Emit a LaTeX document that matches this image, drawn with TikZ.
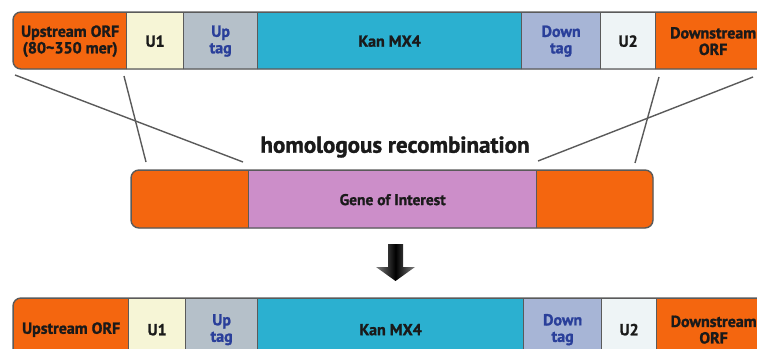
\documentclass[tikz,border=0pt]{standalone}
\usepackage{fontspec}
\setmainfont{PT Sans}[BoldFeatures={FakeBold=1.3}]
\definecolor{orf}{HTML}{F4660F}
\definecolor{uone}{HTML}{F6F5D6}
\definecolor{uptag}{HTML}{B5C0C9}
\definecolor{kan}{HTML}{2BB0D0}
\definecolor{dntag}{HTML}{A7B5D6}
\definecolor{utwo}{HTML}{EEF4F6}
\definecolor{goi}{HTML}{CC8EC9}
\definecolor{edge}{HTML}{5A5A5A}
\definecolor{tagtext}{HTML}{2A3F9A}
\definecolor{labtext}{HTML}{1A1A1A}
\begin{document}
\begin{tikzpicture}[x=1pt,y=-1pt,
  seg/.style={draw=edge, line width=1.3pt, inner sep=0pt, anchor=north west,
    align=center, text=labtext, font=\bfseries\fontsize{16}{16.5}\selectfont},
  tagseg/.style={seg, text=tagtext},
  outline/.style={draw=edge, line width=1.4pt, rounded corners=8pt},
  conn/.style={draw=edge, line width=1.4pt}]
\useasboundingbox (0,0) rectangle (757,348);
\clip (0,0) rectangle (757,348);

% ---------- top bar ----------
\begin{scope}
\clip[rounded corners=8pt] (13,12) rectangle (770,69);
\node[seg, fill=orf, minimum width=113pt, minimum height=57pt] (t1) at (13,12) {Upstream ORF\\(80\textasciitilde350 mer)};
\node[seg, fill=uone, minimum width=57pt, minimum height=57pt] (t2) at (126,12) {U1};
\node[tagseg, fill=uptag, minimum width=74pt, minimum height=57pt] (t3) at (183,12) {Up\\tag};
\node[seg, fill=kan, minimum width=264pt, minimum height=57pt] (t4) at (257,12) {Kan MX4};
\node[tagseg, fill=dntag, minimum width=79pt, minimum height=57pt] (t5) at (521,12) {Down\\tag};
\node[seg, fill=utwo, minimum width=55pt, minimum height=57pt] (t6) at (600,12) {U2};
\node[seg, fill=orf, minimum width=115pt, minimum height=57pt] (t7) at (655,12) {Downstream\\ORF};
\end{scope}
\draw[outline] (13,12) rectangle (770,69);

% ---------- middle bar ----------
\begin{scope}
\clip[rounded corners=8pt] (131,170) rectangle (653,228);
\node[seg, fill=orf, minimum width=117pt, minimum height=58pt] (m1) at (131,170) {};
\node[seg, fill=goi, minimum width=288pt, minimum height=58pt, font=\bfseries\fontsize{15.5}{16}\selectfont] (m2) at (248,170) {Gene of Interest};
\node[seg, fill=orf, minimum width=117pt, minimum height=58pt] (m3) at (536,170) {};
\end{scope}
\draw[outline] (131,170) rectangle (653,228);

% ---------- bottom bar ----------
\begin{scope}
\clip[rounded corners=8pt] (13,298) rectangle (770,360);
\node[seg, fill=orf, minimum width=115pt, minimum height=62pt] (b1) at (13,298) {Upstream ORF};
\node[seg, fill=uone, minimum width=57pt, minimum height=62pt] (b2) at (128,298) {U1};
\node[tagseg, fill=uptag, minimum width=72pt, minimum height=62pt] (b3) at (185,298) {Up\\tag};
\node[seg, fill=kan, minimum width=266pt, minimum height=62pt] (b4) at (257,298) {Kan MX4};
\node[tagseg, fill=dntag, minimum width=78pt, minimum height=62pt] (b5) at (523,298) {Down\\tag};
\node[seg, fill=utwo, minimum width=55pt, minimum height=62pt] (b6) at (601,298) {U2};
\node[seg, fill=orf, minimum width=114pt, minimum height=62pt] (b7) at (656,298) {Downstream\\ORF};
\end{scope}
\draw[outline] (13,298) rectangle (770,360);

% ---------- recombination lines ----------
\coordinate (la1) at (15,75);
\coordinate (la2) at (243,162);
\coordinate (lb1) at (124,76);
\coordinate (lb2) at (146,162);
\coordinate (ra1) at (753,77);
\coordinate (ra2) at (538,161);
\coordinate (rb1) at (659,77);
\coordinate (rb2) at (635,163);
\draw[conn] (la1) -- (la2);
\draw[conn] (lb1) -- (lb2);
\draw[conn] (ra1) -- (ra2);
\draw[conn] (rb1) -- (rb2);

\node[font=\bfseries\fontsize{23}{24}\selectfont, text=labtext] (hr) at (395,147) {homologous recombination};

% ---------- arrow ----------
\shade[left color=black!50, right color=black!50, middle color=black]
  (388,244) -- (403,244) -- (403,267) -- (415,267) -- (395.5,281) -- (376,267) -- (388,267) -- cycle;
\end{tikzpicture}
\end{document}
